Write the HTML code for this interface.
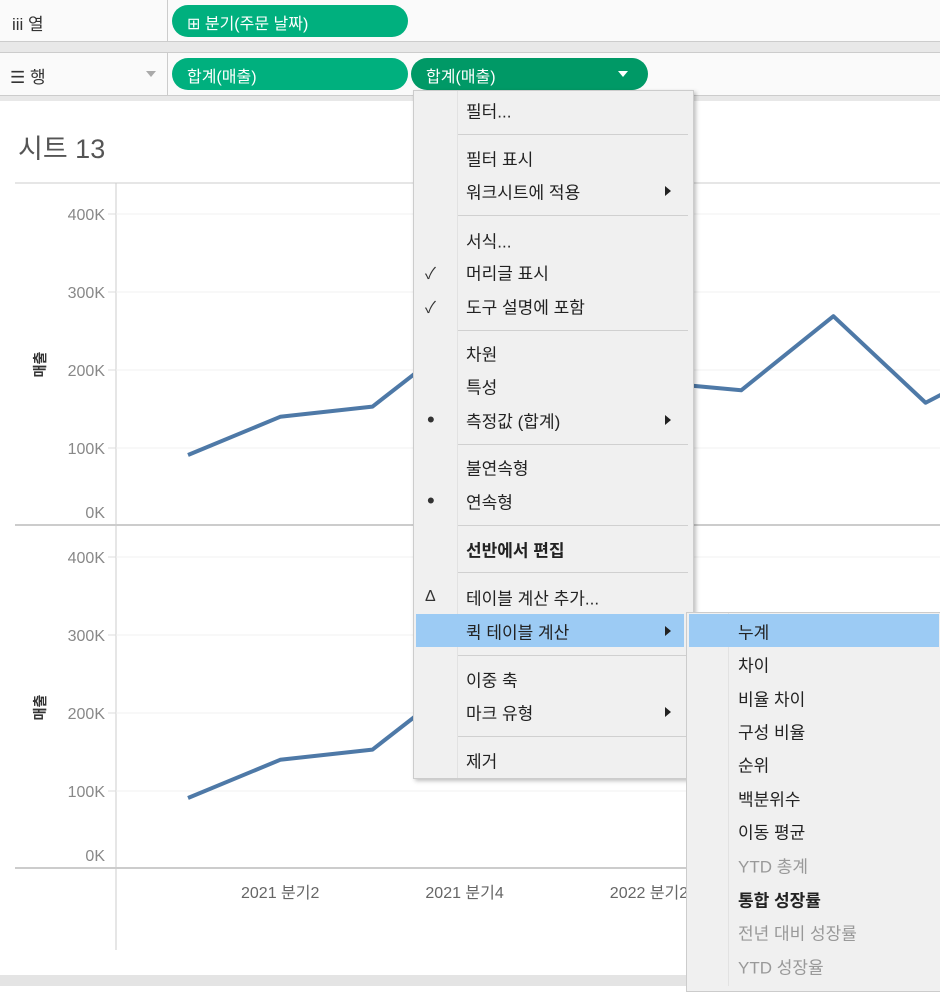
<!DOCTYPE html>
<html><head><meta charset="utf-8"><style>
*{margin:0;padding:0;box-sizing:border-box}
body{width:940px;height:986px;overflow:hidden;background:#fff;font-family:"Liberation Sans","Noto Sans CJK KR",sans-serif;position:relative}
.abs{position:absolute}
.pill{position:absolute;height:32px;border-radius:16px;color:#fff;font-size:16px;display:flex;align-items:center;padding-left:15px;padding-top:1px}
.mi{position:absolute;left:466px;font-size:17px;color:#222;transform:translateY(-50%)}
.sep{position:absolute;left:458px;width:230px;height:1px;background:#d0d0d0}
.si{position:absolute;left:738px;font-size:17px;color:#222;transform:translateY(-50%)}
.arrow{position:absolute;left:665px;width:0;height:0;border-top:5px solid transparent;border-bottom:5px solid transparent;border-left:6px solid #222;transform:translateY(-50%)}
.mk{position:absolute;left:425px;font-size:16px;color:#333;transform:translateY(-50%)}
</style></head><body>
<div class="abs" style="left:0;top:0;width:940px;height:42px;background:#fafafa;border-bottom:1px solid #ccc"></div>
<div class="abs" style="left:167px;top:0;width:1px;height:42px;background:#ccc"></div>
<div class="abs" style="left:12px;top:10px;font-size:17px;color:#333">iii 열</div>
<div class="pill" style="left:172px;top:5px;width:236px;background:#00b07e">⊞ 분기(주문 날짜)</div>
<div class="abs" style="left:0;top:42px;width:940px;height:10px;background:#e8e8e8"></div>
<div class="abs" style="left:0;top:52px;width:940px;height:44px;background:#fafafa;border-top:1px solid #ccc;border-bottom:1px solid #ccc"></div>
<div class="abs" style="left:167px;top:52px;width:1px;height:44px;background:#ccc"></div>
<div class="abs" style="left:10px;top:63px;font-size:17px;color:#333">☰ 행</div>
<div class="abs" style="left:146px;top:71px;border-left:5px solid transparent;border-right:5px solid transparent;border-top:6px solid #aaa"></div>
<div class="pill" style="left:172px;top:58px;width:236px;background:#00b07e">합계(매출)</div>
<div class="pill" style="left:411px;top:58px;width:237px;background:#009966">합계(매출)<span style="position:absolute;left:207px;top:13px;border-left:5px solid transparent;border-right:5px solid transparent;border-top:6px solid #fff"></span></div>
<div class="abs" style="left:0;top:96px;width:940px;height:5px;background:#e8e8e8"></div>
<div class="abs" style="left:18px;top:127px;font-size:27px;color:#555">시트 13</div>
<div class="abs" style="left:0;top:975px;width:940px;height:11px;background:#e4e4e4"></div>

<svg id="chart" class="abs" style="left:0;top:0" width="940" height="986"></svg>

<div class="abs" style="left:413px;top:90px;width:281px;height:689px;background:#f0f0f0;border:1px solid #ccc;box-shadow:2px 2px 4px rgba(0,0,0,.25)"></div>
<div class="abs" style="left:457px;top:91px;width:1px;height:687px;background:#e2e2e2"></div>
<div class="abs" style="left:416px;top:614px;width:268px;height:33px;background:#9ccbf4"></div>
<div class="mi" style="top:110px">필터...</div>
<div class="sep" style="top:134px"></div>
<div class="mi" style="top:158px">필터 표시</div>
<div class="mi" style="top:191px">워크시트에 적용</div><div class="arrow" style="top:191px"></div>
<div class="sep" style="top:215px"></div>
<div class="mi" style="top:240px">서식...</div>
<div class="mk" style="top:272px">✓</div><div class="mi" style="top:272px">머리글 표시</div>
<div class="mk" style="top:306px">✓</div><div class="mi" style="top:306px">도구 설명에 포함</div>
<div class="sep" style="top:330px"></div>
<div class="mi" style="top:353px">차원</div>
<div class="mi" style="top:386px">특성</div>
<div class="mk" style="top:420px;font-size:22px;left:427px">•</div><div class="mi" style="top:420px">측정값 (합계)</div><div class="arrow" style="top:420px"></div>
<div class="sep" style="top:444px"></div>
<div class="mi" style="top:467px">불연속형</div>
<div class="mk" style="top:501px;font-size:22px;left:427px">•</div><div class="mi" style="top:501px">연속형</div>
<div class="sep" style="top:525px"></div>
<div class="mi" style="top:549px;font-weight:bold">선반에서 편집</div>
<div class="sep" style="top:572px"></div>
<div class="mk" style="top:597px;font-size:16px">Δ</div><div class="mi" style="top:597px">테이블 계산 추가...</div>
<div class="mi" style="top:631px">퀵 테이블 계산</div><div class="arrow" style="top:631px"></div>
<div class="sep" style="top:655px"></div>
<div class="mi" style="top:679px">이중 축</div>
<div class="mi" style="top:712px">마크 유형</div><div class="arrow" style="top:712px"></div>
<div class="sep" style="top:736px"></div>
<div class="mi" style="top:760px">제거</div>

<div class="abs" style="left:686px;top:612px;width:260px;height:380px;background:#f0f0f0;border:1px solid #ccc"></div>
<div class="abs" style="left:728px;top:613px;width:1px;height:373px;background:#e2e2e2"></div>
<div class="abs" style="left:689px;top:614px;width:250px;height:33px;background:#9ccbf4"></div>
<div class="si" style="top:631px">누계</div>
<div class="si" style="top:664px">차이</div>
<div class="si" style="top:698px">비율 차이</div>
<div class="si" style="top:731px">구성 비율</div>
<div class="si" style="top:764px">순위</div>
<div class="si" style="top:798px">백분위수</div>
<div class="si" style="top:831px">이동 평균</div>
<div class="si" style="top:865px;color:#999">YTD 총계</div>
<div class="si" style="top:899px;font-weight:bold">통합 성장률</div>
<div class="si" style="top:932px;color:#999">전년 대비 성장률</div>
<div class="si" style="top:966px;color:#999">YTD 성장율</div>

<script>
const categories=["2021Q1","2021Q2","2021Q3","2021Q4","2022Q1","2022Q2","2022Q3","2022Q4","2023Q1","2023Q2"];
const salesValues=[91000,140000,153000,245000,190000,185000,174000,269000,158000,220000];
const yTicks=[0,100000,200000,300000,400000];
const yTickLabels=["0K","100K","200K","300K","400K"];
const xTickLabels=[["2021 분기2",1],["2021 분기4",3],["2022 분기2",5]];
const svg=document.getElementById('chart');
const NS='http://www.w3.org/2000/svg';
function x(i){return 188+i*92.2;}
function mk(t,a){const e=document.createElementNS(NS,t);for(const k in a)e.setAttribute(k,a[k]);svg.appendChild(e);return e;}
const panes=[{zero:526,top:183},{zero:869,top:526}];
function y(v,p){return p.zero-v/100000*78;}
let l=mk('line',{x1:15,y1:183,x2:940,y2:183,stroke:'#ccc'});

l=mk('line',{x1:116,y1:183,x2:116,y2:950,stroke:'#ccc'});

panes.forEach((p,pi)=>{
  yTicks.forEach((t,i)=>{
    if(t>0){const g=mk('line',{x1:116,y1:y(t,p),x2:940,y2:y(t,p),stroke:'#f0f0f0'});
    
    mk('line',{x1:108,y1:y(t,p),x2:116,y2:y(t,p),stroke:'#ddd'});}
    const ly=t===0?p.zero-14:y(t,p);
    const tx=mk('text',{x:105,y:ly+6,'text-anchor':'end','font-size':16,fill:'#888','font-family':'Liberation Sans'});
    tx.textContent=yTickLabels[i];
    
  });
  const b=mk('line',{x1:15,y1:p.zero-1,x2:940,y2:p.zero-1,stroke:'#ccc','stroke-width':2});
  
  const cy=(p.top+p.zero)/2+10;
  const at=mk('text',{x:0,y:0,'font-size':14,'font-weight':'bold',fill:'#333','font-family':'Noto Sans CJK KR',transform:`translate(45,${cy}) rotate(-90)`,'text-anchor':'middle'});
  at.textContent='매출';
  
  const pts=salesValues.map((v,i)=>x(i)+','+y(v,p)).join(' ');
  const pl=mk('polyline',{points:pts,fill:'none',stroke:'#4e79a7','stroke-width':4,'stroke-linejoin':'round'});
  
});
xTickLabels.forEach(([lab,i])=>{
  const t=mk('text',{x:x(i),y:898,'text-anchor':'middle','font-size':16,fill:'#666','font-family':'Liberation Sans, Noto Sans CJK KR'});
  t.textContent=lab;
  
});
</script>
</body></html>
